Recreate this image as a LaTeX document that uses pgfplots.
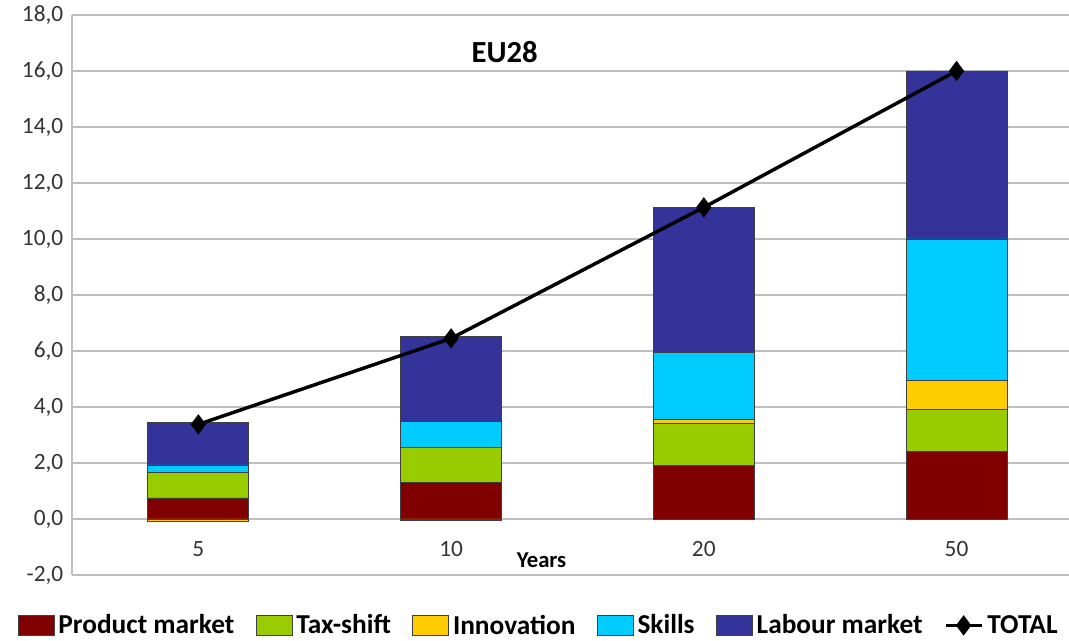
\documentclass[border=0pt]{standalone}
\usepackage{pgfplots}
\pgfplotsset{compat=1.18}
\usepackage{fontspec}
\setmainfont{Carlito}
\definecolor{pm}{HTML}{800000}
\definecolor{tax}{HTML}{99CC00}
\definecolor{inn}{HTML}{FFCC00}
\definecolor{ski}{HTML}{00CCFF}
\definecolor{lab}{HTML}{333399}
\definecolor{gridc}{HTML}{BFBFBF}
\pgfplotsset{
  common/.style={
    scale only axis, width=747.75pt, height=420pt,
    at={(0,0)}, anchor=south west,
    xmin=-0.5, xmax=3.445, ymin=-2, ymax=18,
  },
  sq/.style={legend image code/.code={\draw[##1,draw=black!75,line width=0.6pt] (0pt,-7.5pt) rectangle (27pt,7.5pt);}},
  barsty/.style={fill=#1, draw=black!75, line width=0.6pt, sq},
  totleg/.style={legend image code/.code={\draw[##1, sharp plot, mark repeat=2, mark phase=2] plot coordinates {(0pt,0pt) (13.5pt,0pt) (27pt,0pt)};}},
}
\begin{document}
\begin{tikzpicture}
\begin{axis}[common,
  ybar stacked, bar width=75.75pt,
  axis y line*=left, axis x line*=bottom,
  axis line style={gridc, line width=1.1pt},
  major tick length=0pt,
  xtick={0,1,2,3}, xticklabels={5,10,20,50},
  ytick={-2,0,...,18},
  ymajorgrids, grid style={gridc, line width=1.1pt},
  tick label style={font=\fontsize{17.5}{20}\selectfont, text=black!80},
  xticklabel style={yshift=29pt},
  yticklabel style={xshift=-3pt},
  /pgf/number format/assume math mode=true,
  yticklabel={\pgfmathprintnumber[fixed, fixed zerofill, precision=1, use comma]{\tick}},
  legend style={draw=none, fill=none, at={(0.469,-0.090)}, anchor=center,
    legend columns=-1, font=\fontsize{20.5}{22}\selectfont\bfseries,
    nodes={inner xsep=3pt, inner ysep=1pt},
    /tikz/every even column/.append style={column sep=13pt}},
  legend cell align=left,
]
\addplot[barsty=pm] coordinates {(0,0.75) (1,1.30) (2,1.90) (3,2.42)};
\addplot[barsty=tax] coordinates {(0,0.92) (1,1.26) (2,1.50) (3,1.50)};
\addplot[barsty=inn] coordinates {(0,0) (1,0) (2,0.16) (3,1.04)};
\addplot[barsty=ski] coordinates {(0,0.26) (1,0.93) (2,2.40) (3,5.04)};
\addplot[barsty=lab] coordinates {(0,1.53) (1,3.02) (2,5.17) (3,6.00)};
\addlegendimage{black, line width=2.6pt, mark=diamond*, mark size=5.5pt, totleg}
\legend{Product market, Tax-shift, Innovation, Skills, Labour market, TOTAL}
\end{axis}
\begin{axis}[common, hide axis]
\addplot[ybar, bar width=75.75pt, bar shift=0pt, fill=inn, draw=black!75, line width=0.6pt] coordinates {(0,-0.08) (1,-0.06)};
\addplot[black, line width=2.6pt, mark=diamond*, mark size=5.5pt] coordinates {(0,3.38) (1,6.45) (2,11.13) (3,16.0)};
\node[font=\fontsize{23}{27}\selectfont\bfseries] at (rel axis cs:0.434,0.934) {EU28};
\node[font=\fontsize{17}{20}\selectfont\bfseries] at (rel axis cs:0.471,0.027) {Years};
\end{axis}
\pgfresetboundingbox
\path[use as bounding box] (-54pt,-49.5pt) rectangle (747.75pt,431.25pt);
\end{tikzpicture}
\end{document}
